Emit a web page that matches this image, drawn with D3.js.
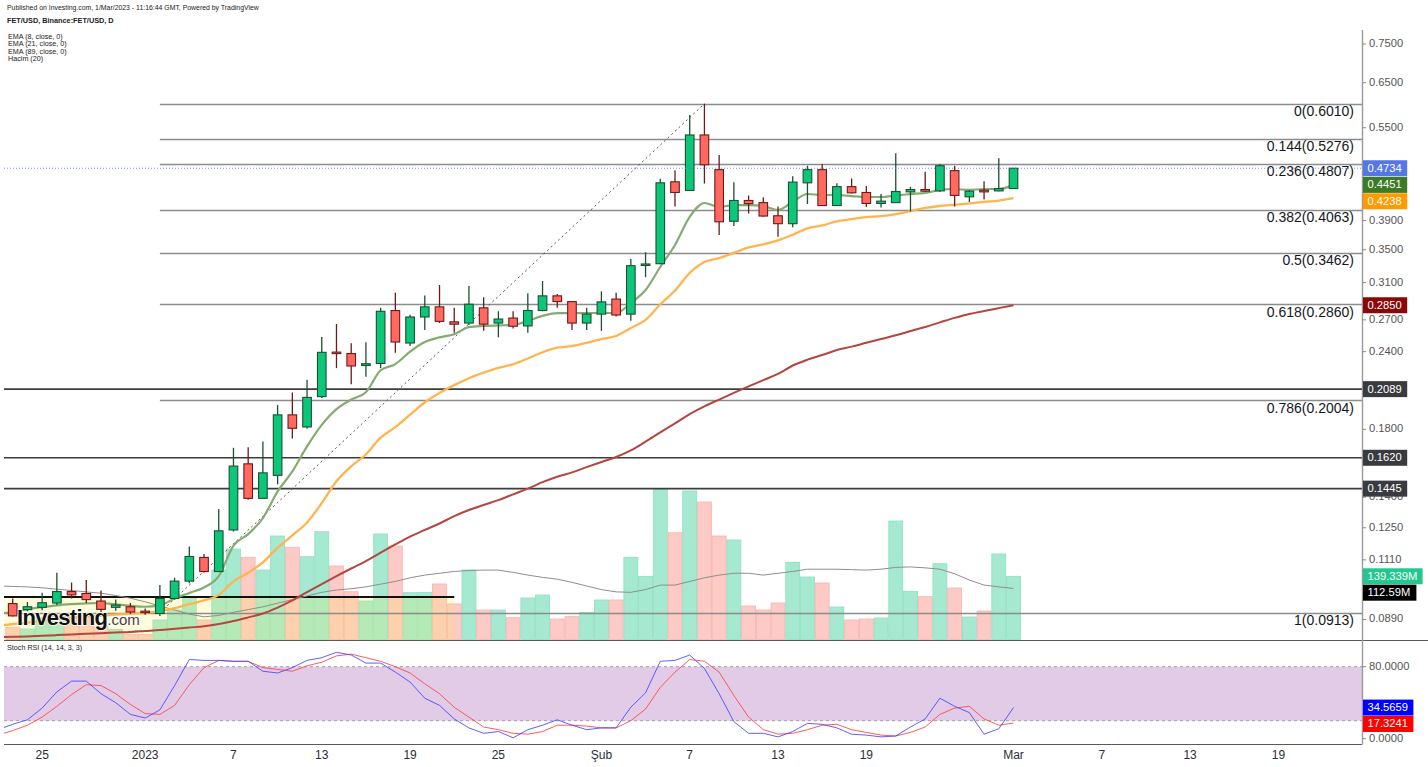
<!DOCTYPE html>
<html><head><meta charset="utf-8">
<script src="https://cdn.jsdelivr.net/npm/d3@7"></script>
<style>
html,body{margin:0;padding:0;background:#fff;}
svg{display:block;font-family:"Liberation Sans",Arial,sans-serif;}
</style></head><body>
<svg id="chart" width="1428" height="767"></svg>
<script>
// ---------------- DATA ----------------
const firstCandle = "2022-12-23";
const openP  = [0.0944,0.0923,0.0931,0.0946,0.0987,0.0980,0.0953,0.0931,0.0933,0.0918,
                0.0910,0.0962,0.1026,0.1120,0.1063,0.1240,0.1584,0.1394,0.1518,0.1899,
                0.1816,0.2032,0.2396,0.2383,0.2280,0.2297,0.2795,0.2478,0.2729,0.2833,
                0.2680,0.2668,0.2823,0.2668,0.2718,0.2640,0.2795,0.2951,0.2889,0.2668,
                0.2758,0.2916,0.2758,0.3311,0.3324,0.4502,0.4360,0.5355,0.4709,0.3890,
                0.4201,0.4168,0.3970,0.3855,0.4485,0.4709,0.4123,0.4422,0.4327,0.4155,
                0.4168,0.4337,0.4375,0.4353,0.4692,0.4259,0.4364,0.4353,0.4391];
const highP  = [0.0962,0.0950,0.0983,0.1058,0.1021,0.1030,0.0991,0.0958,0.0946,0.0927,
                0.1011,0.1039,0.1166,0.1134,0.1340,0.1681,0.1684,0.1721,0.1970,0.2064,
                0.2162,0.2535,0.2659,0.2475,0.2484,0.2823,0.2986,0.2752,0.2954,0.3072,
                0.2823,0.3061,0.2935,0.2787,0.2787,0.2979,0.3118,0.2972,0.2895,0.2823,
                0.3001,0.2986,0.3382,0.3468,0.4555,0.4697,0.5768,0.6010,0.4971,0.4496,
                0.4281,0.4250,0.4107,0.4597,0.4779,0.4807,0.4479,0.4556,0.4433,0.4303,
                0.5003,0.4422,0.4672,0.4809,0.4779,0.4364,0.4512,0.4911,0.4734];
const lowP   = [0.0900,0.0918,0.0921,0.0939,0.0962,0.0946,0.0915,0.0919,0.0908,0.0906,
                0.0902,0.0958,0.1018,0.1059,0.1062,0.1233,0.1387,0.1390,0.1468,0.1740,
                0.1804,0.2022,0.2258,0.2127,0.2187,0.2258,0.2390,0.2451,0.2601,0.2668,
                0.2575,0.2650,0.2592,0.2531,0.2614,0.2575,0.2787,0.2823,0.2601,0.2601,
                0.2592,0.2734,0.2690,0.3162,0.3321,0.4107,0.4360,0.4475,0.3696,0.3822,
                0.4002,0.3955,0.3672,0.3804,0.4148,0.4117,0.4117,0.4311,0.4102,0.4092,
                0.4162,0.4033,0.4337,0.4337,0.4107,0.4178,0.4218,0.4348,0.4391];
const closeP = [0.0902,0.0933,0.0947,0.0987,0.0975,0.0958,0.0924,0.0939,0.0915,0.0914,
                0.0962,0.1026,0.1124,0.1063,0.1236,0.1571,0.1394,0.1532,0.1899,0.1807,
                0.2026,0.2394,0.2383,0.2276,0.2295,0.2787,0.2487,0.2729,0.2833,0.2685,
                0.2657,0.2861,0.2657,0.2708,0.2637,0.2795,0.2951,0.2889,0.2668,0.2758,
                0.2886,0.2749,0.3300,0.3321,0.4485,0.4327,0.5355,0.4796,0.3882,0.4201,
                0.4152,0.3966,0.3855,0.4497,0.4709,0.4123,0.4422,0.4322,0.4155,0.4191,
                0.4343,0.4375,0.4348,0.4779,0.4281,0.4348,0.4337,0.4391,0.4734];
// volume in millions
const volumeM = [26.9,23.1,48,52,50.3,49,28.2,22.5,11.5,11.5,
                 43,65,94.4,43,153.2,199.5,181.2,153.2,228.2,203.3,
                 182.5,237.7,162,105.4,84.9,232.6,206.1,103.2,104,122.4,
                 78.3,153.2,65,65,48.1,91.5,98.1,45.2,50.3,60,
                 87.1,87.1,181.2,139.3,331.1,235.4,327.4,303.1,228.2,219.4,
                 73.9,65,80.5,170.2,137.8,124.6,71.6,43,45.2,47.4,
                 261.2,106.3,94.4,167.1,113.5,49.6,62.8,188.5,139.339];
// indicator series start one day before the first candle (left edge of the pane)
const firstIndicator = "2022-12-22";
const ema8 = [0.0910,0.0915,0.0925,0.0932,0.0938,0.0942,0.0945,0.0946,0.0941,0.0936,0.0933,
              0.0938,0.0962,0.0982,0.1002,0.1045,0.1170,0.1221,0.1296,0.1430,0.1540,
              0.1690,0.1830,0.1940,0.2010,0.2065,0.2240,0.2292,0.2400,0.2487,0.2530,
              0.2560,0.2629,0.2639,0.2645,0.2649,0.2690,0.2740,0.2769,0.2769,0.2769,
              0.2770,0.2769,0.2874,0.3015,0.3284,0.3563,0.3952,0.4162,0.4101,0.4131,
              0.4131,0.4116,0.4055,0.4180,0.4303,0.4287,0.4287,0.4271,0.4256,0.4256,
              0.4280,0.4303,0.4319,0.4368,0.4384,0.4368,0.4384,0.4384,0.4451];
const ema21 = [0.0870,0.0875,0.0880,0.0885,0.0890,0.0896,0.0900,0.0903,0.0906,0.0910,0.0912,
               0.0918,0.0928,0.0942,0.0955,0.0975,0.1025,0.1058,0.1100,0.1160,0.1215,
               0.1275,0.1370,0.1485,0.1570,0.1640,0.1745,0.1815,0.1900,0.1990,0.2060,
               0.2120,0.2175,0.2220,0.2260,0.2290,0.2340,0.2395,0.2435,0.2450,0.2480,
               0.2515,0.2543,0.2620,0.2700,0.2860,0.3010,0.3212,0.3345,0.3395,0.3460,
               0.3530,0.3570,0.3625,0.3700,0.3790,0.3830,0.3890,0.3920,0.3950,0.3965,
               0.3995,0.4040,0.4086,0.4116,0.4135,0.4155,0.4180,0.4200,0.4238];
const ema89 = [0.0834,0.0835,0.0836,0.0838,0.0840,0.0842,0.0844,0.0846,0.0848,0.0850,0.0853,
               0.0856,0.0860,0.0864,0.0868,0.0875,0.0885,0.0897,0.0910,0.0930,0.0955,
               0.0985,0.1015,0.1045,0.1075,0.1105,0.1140,0.1175,0.1210,0.1240,0.1270,
               0.1305,0.1335,0.1360,0.1385,0.1415,0.1445,0.1480,0.1510,0.1535,0.1565,
               0.1595,0.1625,0.1665,0.1720,0.1780,0.1840,0.1905,0.1960,0.2010,0.2060,
               0.2110,0.2160,0.2210,0.2280,0.2330,0.2370,0.2415,0.2445,0.2480,0.2515,
               0.2550,0.2590,0.2630,0.2675,0.2720,0.2760,0.2790,0.2820,0.2850];
const volMa20 = [118,117,116,114,111,108,105,102,97,91,83,
                 74,65,56,50,53,60,66,72,80,88,
                 96,104,109,112,116,122,128,136,142,146,
                 150,152,153,153,148,142,137,133,126,118,
                 110,105,104,110,120,120,128,136,142,146,
                 146,142,146,150,155,155,155,154,153,155,
                 159,160,158,155,145,131,120,116,112.59];
const stochK = [10,16,21,34,52,64,64,50,40,27,23,
                32,59,88,87,87,86,86,75,73,79,
                87,90,96,93,84,84,74,63,45,37,
                22,12,6,8,1,10,15,21,15,10,
                12,12,35,51,86,87,93,78,50,19,
                6,6,2,8,17,16,12,5,4,2,
                3,13,22,45,36,29,5,11,34.5659];
const stochD = [4,9,15,24,36,49,60,59,50,38,28,
                27,37,60,79,87,86,86,79,77,75,
                81,85,92,94,90,86,80,73,61,50,
                35,24,13,10,6,5,8,15,15,14,
                12,12,20,33,57,74,88,86,74,48,
                24,10,5,6,10,15,16,10,7,4,
                3,7,13,27,34,36,22,15,17.3241];
// Fibonacci retracement (drawn from 2 Jan low to 8 Feb high)
const fibStart = "2023-01-02", fibEnd = "2023-02-08";
const fibRatios = ["0","0.144","0.236","0.382","0.5","0.618","0.786","1"];
const fibPrices = [0.6010,0.5276,0.4807,0.4063,0.3462,0.2860,0.2004,0.0913];
// horizontal support / resistance levels
const levelPrices = [0.2089,0.1620,0.1445];
// range box
const boxEnd = "2023-01-22", boxTopPrice = 0.0967;
// axis ticks
const priceTicks = [0.75,0.65,0.55,0.39,0.35,0.31,0.27,0.24,0.18,0.14,0.125,0.111,0.089];
const stochTicks = [80,0];
const dateTicks = ["2022-12-25","2023-01-01","2023-01-07","2023-01-13","2023-01-19","2023-01-25",
                   "2023-02-01","2023-02-07","2023-02-13","2023-02-19","2023-03-01","2023-03-07",
                   "2023-03-13","2023-03-19"];
const dateTickLabels = ["25","2023","7","13","19","25","Şub","7","13","19","Mar","7","13","19"];
// last-value markers on the price scale
const priceMarkVals = [0.4734,0.4451,0.4238,0.2850,0.2089,0.1620,0.1445];
const priceMarkCols = ["#5577e6","#3c7a26","#ff9a00","#8b0606","#3a3b40","#3a3b40","#3a3b40"];
const volMarkVals = [139.339,112.59];
const volMarkCols = ["#22c88e","#000000"];
const stochMarkVals = [34.5659,17.3241];
const stochMarkCols = ["#0000ff","#ff0000"];
const headerLines = ["Published on Investing.com, 1/Mar/2023 - 11:16:44 GMT, Powered by TradingView",
                     "FET/USD, Binance:FET/USD, D"];
const legendLines = ["EMA (8, close, 0)","EMA (21, close, 0)","EMA (89, close, 0)","Hacim (20)"];

// ---------------- LAYOUT ----------------
const L = 4, R = 1362, mainTop = 30, volBase = 639.5, sep = 640.5, stochBottom = 744.5;
const svg = d3.select("#chart");
const parse = d3.utcParse("%Y-%m-%d");
const d0 = parse(firstCandle), di0 = parse(firstIndicator);
const dates = closeP.map((_, i) => d3.utcDay.offset(d0, i));
const indDates = ema8.map((_, i) => d3.utcDay.offset(di0, i));

const x = d3.scaleUtc().domain([dates[0], dates[dates.length - 1]]).range([12.7, 1013.5]);
const y = d3.scaleLog().domain([0.089, 0.75]).range([619.5, 44]);
const yVol = d3.scaleLinear().domain([0, 100]).range([volBase, volBase - 45.36]);
const yS = d3.scaleLinear().domain([0, 100]).range([738.7, 648.7]);
const dayW = x(dates[1]) - x(dates[0]);

const defs = svg.append("defs");
defs.append("clipPath").attr("id", "cMain").append("rect")
  .attr("x", L).attr("y", mainTop).attr("width", R - L).attr("height", sep - mainTop);
defs.append("clipPath").attr("id", "cStoch").append("rect")
  .attr("x", L).attr("y", sep).attr("width", R - L).attr("height", stochBottom - sep);

svg.append("rect").attr("width", 1428).attr("height", 767).attr("fill", "#fff");

// header
svg.append("g").selectAll("text").data(headerLines).join("text")
  .attr("x", 7).attr("y", (d, i) => 10 + i * 13)
  .attr("font-size", (d, i) => i === 0 ? 6.9 : 7.3).attr("fill", "#222")
  .attr("font-weight", (d, i) => i === 1 ? 700 : 400).text(d => d);
svg.append("g").selectAll("text").data(legendLines).join("text")
  .attr("x", 8).attr("y", (d, i) => 38.5 + i * 7.6)
  .attr("font-size", 7.2).attr("fill", "#222").text(d => d);

const gm = svg.append("g").attr("clip-path", "url(#cMain)");

// volume bars
const up = i => closeP[i] >= openP[i];
gm.append("g").selectAll("rect").data(volumeM).join("rect")
  .attr("x", (d, i) => x(dates[i]) - dayW / 2 + 0.4)
  .attr("width", dayW - 0.8)
  .attr("y", d => yVol(d))
  .attr("height", d => volBase - yVol(d))
  .attr("fill", (d, i) => up(i) ? "#a6e9d1" : "#fdcac6")
  .attr("stroke", (d, i) => up(i) ? "#8ddfc1" : "#f6b3ae")
  .attr("stroke-width", 0.8);

// range box
const bx2 = x(parse(boxEnd));
gm.append("rect").attr("x", L).attr("y", y(boxTopPrice))
  .attr("width", bx2 - L).attr("height", volBase - y(boxTopPrice) + 2)
  .attr("fill", "rgba(255,235,59,0.17)");
gm.append("line").attr("x1", L).attr("x2", bx2)
  .attr("y1", y(boxTopPrice)).attr("y2", y(boxTopPrice))
  .attr("stroke", "#111").attr("stroke-width", 2);

// volume MA
gm.append("path").datum(volMa20)
  .attr("d", d3.line().x((d, i) => x(indDates[i])).y(d => yVol(d)))
  .attr("fill", "none").attr("stroke", "#8e8e8e").attr("stroke-width", 1);

// fib lines
const fx1 = x(parse(fibStart)), fx2 = x(parse(fibEnd));
gm.append("g").selectAll("line").data(fibPrices).join("line")
  .attr("x1", (d, i) => i === fibPrices.length - 1 ? L : fx1).attr("x2", R)
  .attr("y1", d => Math.round(y(d)) + 0.5).attr("y2", d => Math.round(y(d)) + 0.5)
  .attr("stroke", "#8c8c8c").attr("stroke-width", 1.3);
gm.append("g").selectAll("text").data(fibPrices).join("text")
  .attr("x", 1354).attr("y", d => y(d) + 8.5)
  .attr("text-anchor", "end").attr("dominant-baseline", "middle")
  .attr("font-size", 14).attr("fill", "#131722")
  .text((d, i) => `${fibRatios[i]}(${d.toFixed(4)})`);

// dark levels
gm.append("g").selectAll("line").data(levelPrices).join("line")
  .attr("x1", L).attr("x2", R)
  .attr("y1", d => y(d)).attr("y2", d => y(d))
  .attr("stroke", "#3d3d3d").attr("stroke-width", 1.6);

// fib trend line
gm.append("line").attr("x1", fx1).attr("y1", y(fibPrices[fibPrices.length - 1]))
  .attr("x2", fx2).attr("y2", y(fibPrices[0]))
  .attr("stroke", "#555").attr("stroke-width", 1).attr("stroke-dasharray", "2,3");

// EMA lines
const emaLine = d3.line().x((d, i) => x(indDates[i])).y(d => y(d)).curve(d3.curveMonotoneX);
[[ema89, "#b4463f", 2], [ema21, "#ffb44f", 2.3], [ema8, "#84ac72", 2.2]].forEach(([s, c, w]) => {
  gm.append("path").datum(s).attr("d", emaLine)
    .attr("fill", "none").attr("stroke", c).attr("stroke-width", w)
    .attr("stroke-linejoin", "round");
});

// candles
const cg = gm.append("g");
const bw = 8.6;
closeP.forEach((c, i) => {
  const o = openP[i], isUp = c >= o;
  const cx = x(dates[i]);
  const border = isUp ? "#1d4f31" : "#6a1b1b";
  cg.append("line").attr("x1", cx).attr("x2", cx)
    .attr("y1", y(highP[i])).attr("y2", y(lowP[i]))
    .attr("stroke", border).attr("stroke-width", 1.3);
  const yt = y(Math.max(o, c)), yb = y(Math.min(o, c));
  cg.append("rect").attr("x", cx - bw / 2).attr("width", bw)
    .attr("y", yt).attr("height", Math.max(1.5, yb - yt))
    .attr("fill", isUp ? "#0cc77a" : "#ff695e")
    .attr("stroke", border).attr("stroke-width", 1.1);
});

// last price line
gm.append("line").attr("x1", L).attr("x2", R)
  .attr("y1", y(closeP[closeP.length - 1])).attr("y2", y(closeP[closeP.length - 1]))
  .attr("stroke", "#5577e6").attr("stroke-width", 1).attr("stroke-dasharray", "1,2").attr("opacity", 0.8);

// logo
const logo = svg.append("text").attr("x", 17).attr("y", 624.5);
logo.append("tspan").text("Investing").attr("font-size", 22).attr("font-weight", 700)
  .attr("fill", "#111").attr("letter-spacing", -0.7)
  .attr("stroke", "#fff").attr("stroke-width", 1.5).attr("paint-order", "stroke");
logo.append("tspan").text(".com").attr("font-size", 15).attr("fill", "#444")
  .attr("stroke", "#fff").attr("stroke-width", 1.2).attr("paint-order", "stroke");

// ---- stoch pane ----
const gs = svg.append("g").attr("clip-path", "url(#cStoch)");
gs.append("rect").attr("x", L).attr("width", R - L)
  .attr("y", yS(80)).attr("height", yS(20) - yS(80)).attr("fill", "#e2cbe7");
gs.append("g").selectAll("line").data([80, 20]).join("line")
  .attr("x1", L).attr("x2", R).attr("y1", d => yS(d)).attr("y2", d => yS(d))
  .attr("stroke", "#a79bb0").attr("stroke-dasharray", "3,3");
const sLine = d3.line().x((d, i) => x(indDates[i])).y(d => yS(d));
gs.append("path").datum(stochD).attr("d", sLine).attr("fill", "none")
  .attr("stroke", "#ff4a4a").attr("stroke-width", 1).attr("opacity", 0.9);
gs.append("path").datum(stochK).attr("d", sLine).attr("fill", "none")
  .attr("stroke", "#4444ff").attr("stroke-width", 1).attr("opacity", 0.85);
svg.append("text").attr("x", 7).attr("y", 649.5).attr("font-size", 7.2).attr("fill", "#222")
  .text("Stoch RSI (14, 14, 3, 3)");

// ---- frame / axes ----
svg.append("line").attr("x1", L).attr("x2", 1428).attr("y1", sep).attr("y2", sep)
  .attr("stroke", "#5a5a5a").attr("stroke-width", 1.2);
svg.append("line").attr("x1", L).attr("x2", R).attr("y1", stochBottom).attr("y2", stochBottom)
  .attr("stroke", "#5a5a5a").attr("stroke-width", 1.2);
svg.append("line").attr("x1", R + 0.5).attr("x2", R + 0.5).attr("y1", mainTop).attr("y2", stochBottom)
  .attr("stroke", "#9a9a9a").attr("stroke-width", 1.4);

// date axis labels
svg.append("g").selectAll("text").data(dateTicks).join("text")
  .attr("x", d => x(parse(d))).attr("y", 756).attr("dominant-baseline", "middle")
  .attr("text-anchor", "middle").attr("font-size", 12).attr("fill", "#2a2e39")
  .text((d, i) => dateTickLabels[i]);

// price axis ticks
const ax = svg.append("g");
function ticks(vals, sc, fmt) {
  vals.forEach(v => {
    ax.append("line").attr("x1", R).attr("x2", R + 4).attr("y1", sc(v)).attr("y2", sc(v))
      .attr("stroke", "#8a8a8a");
    ax.append("text").attr("x", R + 7).attr("y", sc(v)).attr("dominant-baseline", "middle")
      .attr("font-size", 11.2).attr("fill", "#555").text(fmt(v));
  });
}
ticks(priceTicks, y, v => v.toFixed(4));
ticks(stochTicks, yS, v => v.toFixed(4));

function markers(vals, cols, sc, fmt) {
  let prev = -1e9;
  const items = vals.map((v, i) => ({ v, c: cols[i], y: sc(v) })).sort((a, b) => a.y - b.y);
  items.forEach(it => {
    if (it.y < prev + 16.4) it.y = prev + 16.4;
    prev = it.y;
    const t = fmt(it.v);
    const tw = t.length * 6.2 - (t.split(".").length - 1) * 3 + (t.includes("M") ? 3 : 0);
    ax.append("rect").attr("x", R + 1).attr("y", it.y - 8).attr("height", 16)
      .attr("width", tw + 10).attr("fill", it.c);
    ax.append("text").attr("x", R + 5.5).attr("y", it.y + 0.5).attr("dominant-baseline", "middle")
      .attr("font-size", 11.2).attr("fill", "#fff").text(t);
  });
}
markers(priceMarkVals, priceMarkCols, y, v => v.toFixed(4));
markers(volMarkVals, volMarkCols, yVol, v => v + "M");
markers(stochMarkVals, stochMarkCols, yS, v => v.toFixed(4));
</script>
</body></html>
